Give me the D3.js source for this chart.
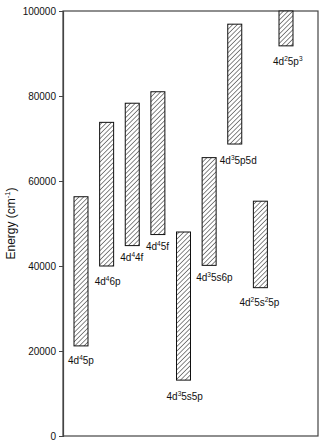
<!DOCTYPE html>
<html>
<head>
<meta charset="utf-8">
<script src="https://cdn.jsdelivr.net/npm/d3@7"></script>
<style>
  html, body { margin: 0; padding: 0; background: #fff; }
  text { font-family: "Liberation Sans", Arial, sans-serif; fill: #111; }
</style>
</head>
<body>
<div id="chart"></div>
<script>
// Konfigurationen (^ = nächstes Zeichen hochgestellt)
const configs = ["4d^45p", "4d^46p", "4d^44f", "4d^45f", "4d^35s5p", "4d^35s6p", "4d^35p5d", "4d^25s^25p", "4d^25p^3"];
// Energiebereich je Konfiguration (cm^-1)
const lowEnergy  = [21200, 40000, 44800, 47400, 13150, 40150, 68700, 34900, 91800];
const highEnergy = [56300, 73800, 78300, 81000, 48000, 65500, 96900, 55250, 100000];
const yTicks = [0, 20000, 40000, 60000, 80000, 100000];

// Beschriftungs-Versatz (px) relativ zu Balkenmitte / Balkenunterkante
const labelOffset = [
  [-13, 15], [-12, 15], [-12, 12], [-12, 12], [-17, 16],
  [-13, 12], [-15, 16], [-21, 15], [-13, 16]
];

const W = 322, H = 441, M = { top: 11, right: 4, bottom: 5, left: 63 };
const svg = d3.select("#chart").append("svg").attr("width", W).attr("height", H);

const data = configs.map((c, i) => ({ c, lo: lowEnergy[i], hi: highEnergy[i], off: labelOffset[i] }));

const x = d3.scalePoint().domain(configs).range([81, 286]);
const y = d3.scaleLinear().domain([0, 100000]).range([H - M.bottom, M.top]);
const barW = 14;

// Schraffur
const defs = svg.append("defs");
const pat = defs.append("pattern")
  .attr("id", "hatch").attr("patternUnits", "userSpaceOnUse")
  .attr("width", 3.3).attr("height", 3.3)
  .attr("patternTransform", "rotate(45)");
pat.append("rect").attr("width", 3.3).attr("height", 3.3).attr("fill", "#fff");
pat.append("line").attr("x1", 0).attr("y1", 0).attr("x2", 0).attr("y2", 3.3)
  .attr("stroke", "#111").attr("stroke-width", 1);

// Rahmen
const x0 = M.left, x1 = W - M.right;
svg.append("rect")
  .attr("x", x0).attr("y", y(100000))
  .attr("width", x1 - x0).attr("height", y(0) - y(100000))
  .attr("fill", "none").attr("stroke", "#444").attr("stroke-width", 1.2);

// y-Achse
const yAxis = svg.append("g").attr("transform", `translate(${x0},0)`)
  .call(d3.axisLeft(y).tickValues(yTicks).tickSize(4).tickPadding(3).tickFormat(d3.format("d")));
yAxis.select(".domain").attr("stroke", "#444").attr("stroke-width", 1.2);
yAxis.selectAll(".tick line").attr("stroke", "#444");
yAxis.selectAll(".tick text").style("font-size", "10px").attr("fill", "#111")
  .style("font-family", "'Liberation Sans', Arial, sans-serif");

// Achsentitel
const yl = svg.append("text")
  .attr("transform", `translate(15, ${(y(0) + y(100000)) / 2}) rotate(-90)`)
  .attr("text-anchor", "middle").style("font-size", "12px");
yl.append("tspan").text("Energy (cm");
yl.append("tspan").text("-1").style("font-size", "7.5px").attr("dy", -5);
yl.append("tspan").text(")").attr("dy", 5);

// Balken
svg.append("g").selectAll("rect").data(data).join("rect")
  .attr("x", d => x(d.c) - barW / 2)
  .attr("y", d => y(d.hi))
  .attr("width", barW)
  .attr("height", d => y(d.lo) - y(d.hi))
  .attr("fill", "url(#hatch)")
  .attr("stroke", "#111").attr("stroke-width", 1);

// Beschriftung mit Hochstellungen
function addLabel(sel, str) {
  let up = false;
  for (let i = 0; i < str.length; i++) {
    if (str[i] === "^") {
      sel.append("tspan").text(str[i + 1]).style("font-size", "6.5px").attr("dy", -4);
      up = true; i++;
      continue;
    }
    let j = i; let s = "";
    while (j < str.length && str[j] !== "^") { s += str[j]; j++; }
    const t = sel.append("tspan").text(s);
    if (up) { t.attr("dy", 4); up = false; }
    i = j - 1;
  }
}

svg.append("g").selectAll("text").data(data).join("text")
  .attr("x", d => x(d.c) + d.off[0])
  .attr("y", d => y(d.lo) + d.off[1] + 3.5)
  .style("font-size", "10px")
  .each(function (d) { addLabel(d3.select(this), d.c); });
</script>
</body>
</html>
